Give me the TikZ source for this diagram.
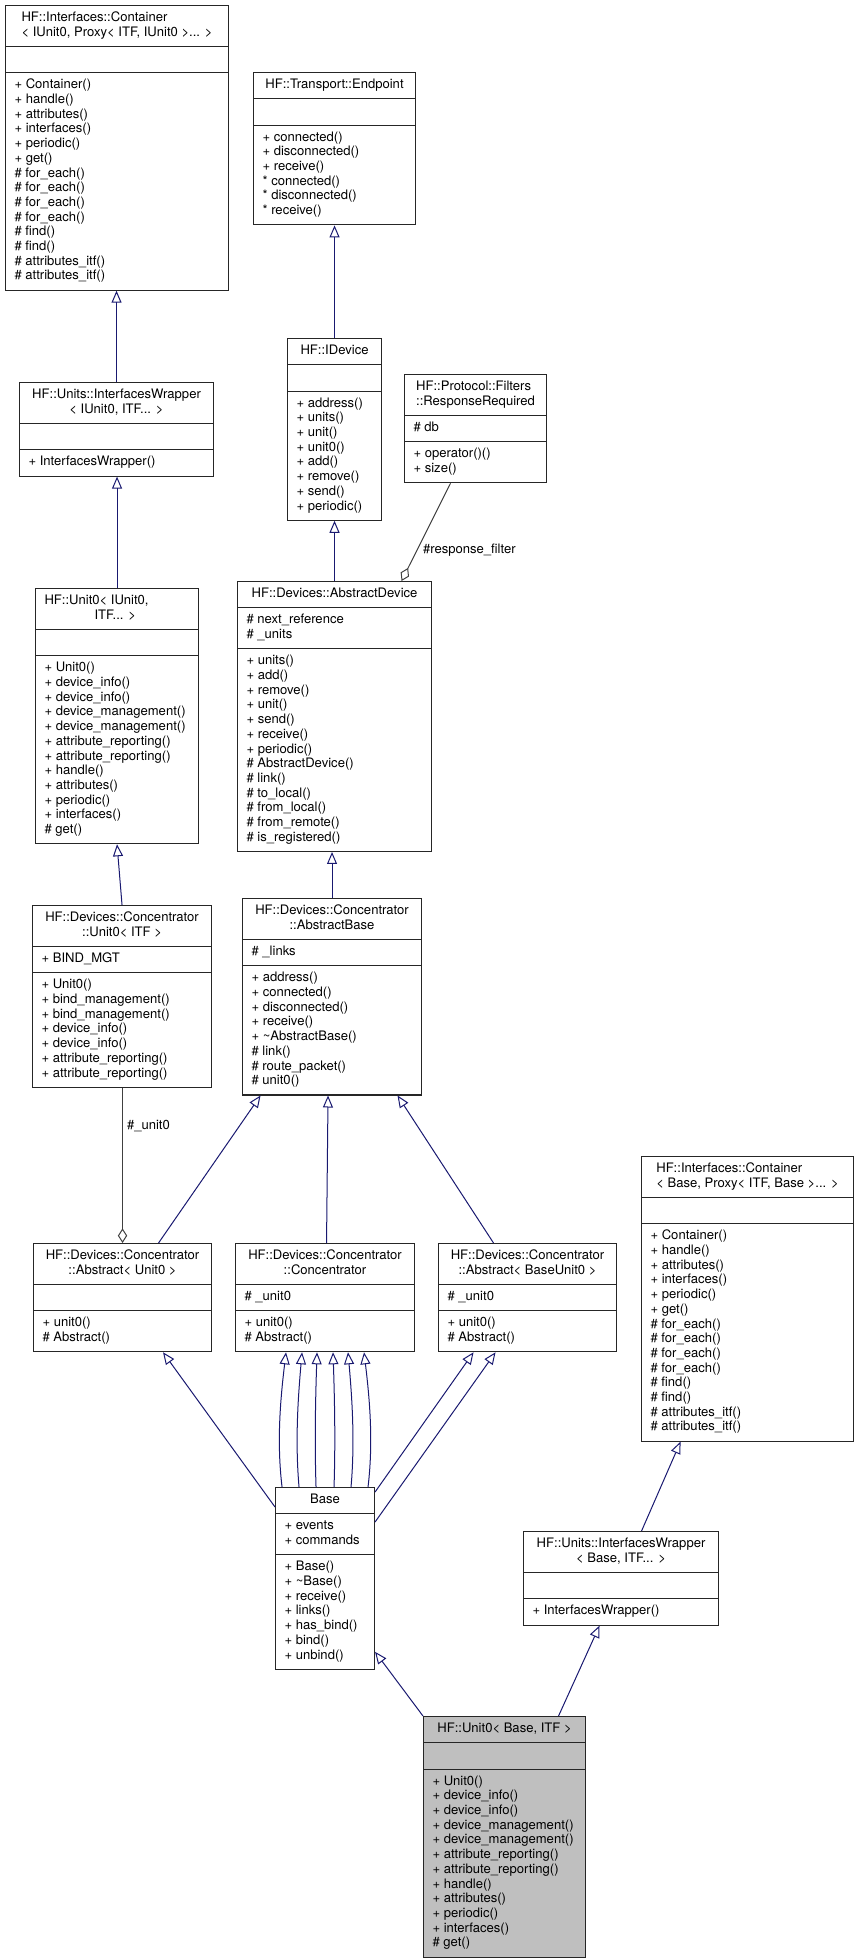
\documentclass[tikz,border=0pt]{standalone}
\usepackage{fontspec}
\setmainfont{TeX Gyre Heros}
\usetikzlibrary{shapes.multipart,arrows.meta,calc}

\definecolor{midblue}{HTML}{191970}
\definecolor{agggray}{HTML}{404040}

\newcommand\clsfont{\fontsize{9.8}{11.025}\selectfont}
\newcommand\lst[1]{\begin{tabular}{@{}l@{}}#1\end{tabular}}
\newcommand\nolst{\lst{\mbox{}}}
% repeated member lists
\newcommand\contmeth{\lst{+ Container()\\+ handle()\\+ attributes()\\+ interfaces()\\+ periodic()\\+ get()\\\# for\_each()\\\# for\_each()\\\# for\_each()\\\# for\_each()\\\# find()\\\# find()\\\# attributes\_itf()\\\# attributes\_itf()}}
\newcommand\unitmeth{\lst{+ Unit0()\\+ device\_info()\\+ device\_info()\\+ device\_management()\\+ device\_management()\\+ attribute\_reporting()\\+ attribute\_reporting()\\+ handle()\\+ attributes()\\+ periodic()\\+ interfaces()\\\# get()}}

\tikzset{
  cls/.style={rectangle split, rectangle split parts=3,
    rectangle split part align={center,left,left},
    draw=black!85, line width=.8pt, fill=white, anchor=north west,
    inner xsep=6.75pt, inner ysep=3.94pt, font=\clsfont},
  bw/.style={minimum width=#1*.75pt},
  inh/.style={draw=midblue, line width=.75pt, -{Triangle[open,length=9pt,width=7.5pt]}},
  agg/.style={draw=agggray, line width=.75pt, {Diamond[open,length=11pt,width=7pt]}-},
}

\begin{document}
\begin{tikzpicture}[x=.75pt, y=-.75pt, font=\clsfont]
\useasboundingbox (0,0) rectangle (859,1960);

% classes
\node[cls, bw=223] (contIU) at (5,5) {\lst{HF::Interfaces::Container\\< IUnit0, Proxy< ITF, IUnit0 >... >}
  \nodepart{two}\nolst
  \nodepart{three}\contmeth};
\node[cls, bw=162] (endpoint) at (253,72) {\lst{HF::Transport::Endpoint}
  \nodepart{two}\nolst
  \nodepart{three}\lst{+ connected()\\+ disconnected()\\+ receive()\\{*} connected()\\{*} disconnected()\\{*} receive()}};
\node[cls, bw=194] (wrapIU) at (19,382) {\begin{tabular}{@{}c@{}}HF::Units::InterfacesWrapper\\< IUnit0, ITF... >\end{tabular}
  \nodepart{two}\nolst
  \nodepart{three}\lst{+ InterfacesWrapper()}};
\node[cls, bw=94] (idevice) at (287,338) {\lst{HF::IDevice}
  \nodepart{two}\nolst
  \nodepart{three}\lst{+ address()\\+ units()\\+ unit()\\+ unit0()\\+ add()\\+ remove()\\+ send()\\+ periodic()}};
\node[cls, bw=142] (resp) at (404,374) {\lst{HF::Protocol::Filters\\::ResponseRequired}
  \nodepart{two}\lst{\# db}
  \nodepart{three}\lst{+ operator()()\\+ size()}};
\node[cls, bw=163, rectangle split part align={left,left,left}] (unitIU) at (35,588) {\lst{HF::Unit0< IUnit0,\\\hspace*{37.5pt}ITF... >}
  \nodepart{two}\nolst
  \nodepart{three}\unitmeth};
\node[cls, bw=194] (absdev) at (237,581) {\lst{HF::Devices::AbstractDevice}
  \nodepart{two}\lst{\# next\_reference\\\# \_units}
  \nodepart{three}\lst{+ units()\\+ add()\\+ remove()\\+ unit()\\+ send()\\+ receive()\\+ periodic()\\\# AbstractDevice()\\\# link()\\\# to\_local()\\\# from\_local()\\\# from\_remote()\\\# is\_registered()}};
\node[cls, bw=179] (concunit) at (32,905) {\begin{tabular}{@{}c@{}}HF::Devices::Concentrator\\::Unit0< ITF >\end{tabular}
  \nodepart{two}\lst{+ BIND\_MGT}
  \nodepart{three}\lst{+ Unit0()\\+ bind\_management()\\+ bind\_management()\\+ device\_info()\\+ device\_info()\\+ attribute\_reporting()\\+ attribute\_reporting()}};
\node[cls, bw=179] (absbase) at (242,898) {\begin{tabular}{@{}c@{}}HF::Devices::Concentrator\\::AbstractBase\end{tabular}
  \nodepart{two}\lst{\# \_links}
  \nodepart{three}\lst{+ address()\\+ connected()\\+ disconnected()\\+ receive()\\+ \textasciitilde AbstractBase()\\\# link()\\\# route\_packet()\\\# unit0()}};
\node[cls, bw=178] (absunit) at (33,1243) {\begin{tabular}{@{}c@{}}HF::Devices::Concentrator\\::Abstract< Unit0 >\end{tabular}
  \nodepart{two}\nolst
  \nodepart{three}\lst{+ unit0()\\\# Abstract()}};
\node[cls, bw=179] (conc) at (235,1243) {\begin{tabular}{@{}c@{}}HF::Devices::Concentrator\\::Concentrator\end{tabular}
  \nodepart{two}\lst{\# \_unit0}
  \nodepart{three}\lst{+ unit0()\\\# Abstract()}};
\node[cls, bw=178] (absbu) at (438,1243) {\begin{tabular}{@{}c@{}}HF::Devices::Concentrator\\::Abstract< BaseUnit0 >\end{tabular}
  \nodepart{two}\lst{\# \_unit0}
  \nodepart{three}\lst{+ unit0()\\\# Abstract()}};
\node[cls, bw=212] (contB) at (641,1156) {\lst{HF::Interfaces::Container\\< Base, Proxy< ITF, Base >... >}
  \nodepart{two}\nolst
  \nodepart{three}\contmeth};
\node[cls, bw=99] (base) at (275,1487) {\lst{Base}
  \nodepart{two}\lst{+ events\\+ commands}
  \nodepart{three}\lst{+ Base()\\+ \textasciitilde Base()\\+ receive()\\+ links()\\+ has\_bind()\\+ bind()\\+ unbind()}};
\node[cls, bw=195] (wrapB) at (523,1531) {\begin{tabular}{@{}c@{}}HF::Units::InterfacesWrapper\\< Base, ITF... >\end{tabular}
  \nodepart{two}\nolst
  \nodepart{three}\lst{+ InterfacesWrapper()}};
\node[cls, bw=162, fill=black!25] (unitB) at (423,1716) {\lst{HF::Unit0< Base, ITF >}
  \nodepart{two}\nolst
  \nodepart{three}\unitmeth};

% inheritance
\draw[inh] (wrapIU.north) -- (wrapIU.north |- contIU.south);
\draw[inh] (unitIU.north) -- (unitIU.north |- wrapIU.south);
\draw[inh] (concunit.north) -- (unitIU.south);
\draw[inh] (endpoint.south |- idevice.north) -- (endpoint.south);
\draw[inh] (absdev.north) -- (absdev.north |- idevice.south);
\draw[inh] (absbase.north) -- (absbase.north |- absdev.south);
\draw[inh] ($(absunit.north)+(36,0)$) -- ($(absbase.south)+(-71.5,0)$);
\draw[inh] ($(conc.north)+(1.5,0)$) -- ($(absbase.south)+(-4,0)$);
\draw[inh] ($(absbu.north)+(-34,0)$) -- ($(absbase.south)+(65.5,0)$);
\draw[inh] ($(base.north west)+(0,20)$) -- ($(absunit.south)+(40.5,0)$);
\foreach \a/\b/\c in {-43/-39/-5.5, -26/-23/-4, -9/-8/-1.5, 9/8/1.5, 26/23/4, 43/39/5.5}
  \draw[inh] ($(base.north)+(\a,0)$) .. controls +(\c,-46) and +(\c,46) .. ($(conc.south)+(\b,0)$);
\draw[inh] ($(base.north east)+(0,5)$) -- ($(absbu.south)+(-54,0)$);
\draw[inh] ($(base.north east)+(0,35)$) -- ($(absbu.south)+(-32,0)$);
\draw[inh] ($(wrapB.north)+(20.5,0)$) -- ($(contB.south)+(-67,0)$);
\draw[inh] (unitB.north west) -- ($(base.south east)+(0,-18)$);
\draw[inh] ($(unitB.north)+(54,0)$) -- ($(wrapB.south)+(-21.5,0)$);

% aggregation
\draw[agg] ($(absdev.north)+(67,0)$) -- node[pos=.32, right, inner sep=4pt] {\#response\_filter} ($(resp.south)+(-25,0)$);
\draw[agg] (absunit.north) -- node[pos=.755, right, inner sep=3pt] {\#\_unit0} (absunit.north |- concunit.south);
\end{tikzpicture}
\end{document}
